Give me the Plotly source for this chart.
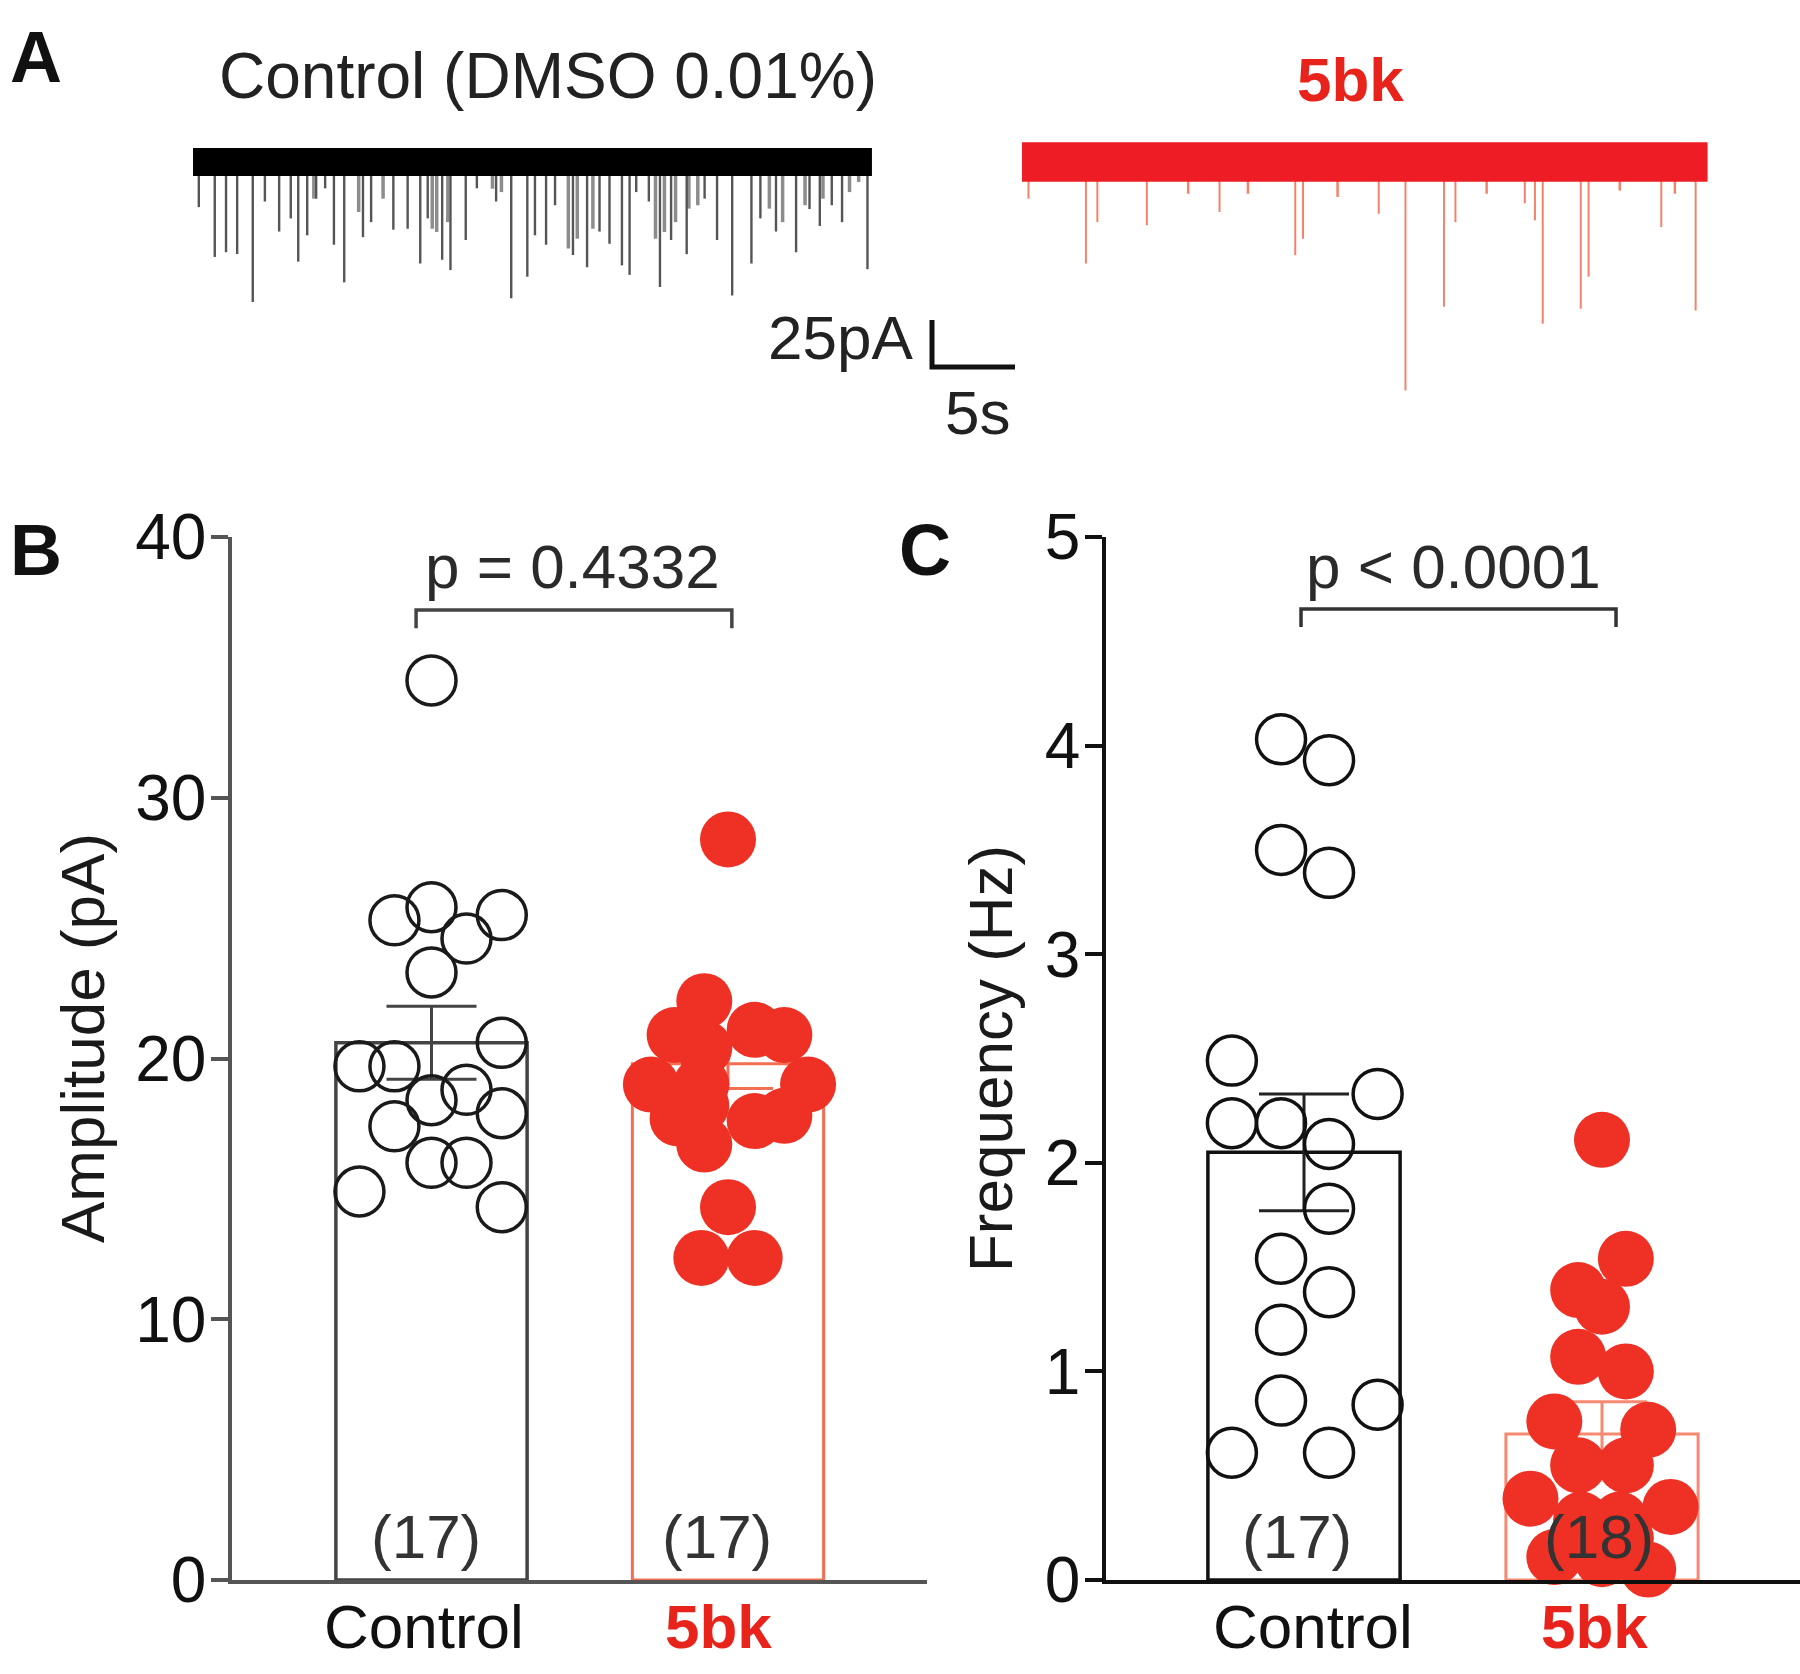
import plotly.graph_objects as go

W, H = 1800, 1674
FONT = "Liberation Sans, Arial, sans-serif"
RED = "#EE3124"
RED_TEXT = "#E8231B"
RED_TRACE = "#EE1C25"
RED_SPIKE = "#F4826A"
RED_BAR = "#F36E52"
INK = "#1a1a1a"
GRAY_AX = "#555555"


def px(x):
    return x / W


def py(y):
    return 1 - y / H


# ---------------- Panel A : example traces ----------------
ctrl_duration_s = 40.9
bk_duration_s = 41.3
ctrl_noise_pa = 15.0
bk_noise_pa = 21.0
ctrl_event_t = [0.35, 1.31, 1.99, 2.66, 3.60, 4.33, 5.19, 5.89, 6.34, 6.88, 7.42, 7.96, 8.49,
                9.11, 10.24, 10.73, 12.07, 12.93, 13.69, 14.14, 15.01, 15.51, 16.43, 17.10,
                18.26, 19.17, 20.14, 20.60, 21.27, 21.81, 22.89, 23.74, 24.49, 25.09, 25.84,
                26.30, 26.70, 27.46, 28.13, 28.80, 29.74, 30.82, 31.57, 32.48, 33.64, 34.18,
                35.12, 36.33, 37.14, 37.76, 38.48, 39.10, 40.63]
ctrl_event_amp = [24, 50.5, 48, 49, 74.5, 21, 37, 30, 53, 39, 19.5, 14, 44, 64, 40, 32, 36,
                  35.5, 54, 30, 52, 57.5, 41.5, 14, 21, 72.5, 61, 39, 44, 23, 49.5, 56, 37,
                  43.5, 55, 60, 16, 21, 66.5, 41.5, 49, 19.5, 41.5, 71, 54, 30, 37, 48, 25,
                  34, 23, 32, 57]
ctrl_minor_t = [7.28, 9.98, 11.45, 14.41, 14.68, 15.35, 18.04, 18.58, 22.61, 23.15, 24.09,
                27.86, 28.40, 29.07, 29.87, 30.41, 34.72, 35.52, 36.87, 37.95, 39.55, 40.10]
ctrl_minor_amp = [19.5, 26.6, 19.5, 35.5, 37.2, 32, 14.2, 16, 46, 40.8, 35.5, 40.8, 37.2, 32,
                  24.8, 23, 24.8, 32, 23, 19.5, 16, 10.6]
bk_event_t = [0.39, 3.85, 4.54, 7.52, 11.90, 16.46, 16.93, 21.49, 23.10, 25.42, 26.11, 30.29,
              30.90, 31.37, 33.66, 34.13, 38.51, 40.58]
bk_event_amp = [19.5, 54, 32, 33.7, 26.6, 49.6, 40.8, 27.5, 121.5, 77, 32, 22, 31, 86, 78,
                61, 34.6, 79]
bk_minor_t = [10.01, 13.61, 19.01, 27.99, 36.01, 39.33]
bk_minor_amp = [16.9, 16.9, 18.6, 16.9, 15.2, 16.9]
scale_pa = 25
scale_s = 5

# ---------------- Panel B : amplitude ----------------
groups = ["Control", "5bk"]
amp_ctrl = [34.5, 25.8, 25.3, 25.5, 24.6, 23.3, 20.6, 19.7, 19.7, 18.8, 18.4, 17.4, 17.9,
            16.0, 16.0, 14.9, 14.3]
amp_ctrl_jitter = [0, 0, -0.125, 0.237, 0.118, 0, 0.237, -0.243, -0.125, 0.118, 0, -0.125,
                   0.237, 0, 0.118, -0.243, 0.237]
amp_bk = [28.4, 22.2, 20.9, 21.1, 20.9, 20.4, 19.0, 19.0, 19.0, 18.2, 17.7, 17.8, 17.6,
          16.7, 14.3, 12.35, 12.35]
amp_bk_jitter = [0, -0.08, -0.18, 0.09, 0.19, -0.08, -0.26, -0.09, 0.27, -0.09, -0.17, 0.19,
                 0.09, -0.08, 0, -0.09, 0.09]
amp_mean = [20.6, 19.8]
amp_sem = [1.4, 0.95]
amp_p = "p = 0.4332"
amp_ticks = [0, 10, 20, 30, 40]

# ---------------- Panel C : frequency ----------------
freq_ctrl = [4.03, 3.93, 3.50, 3.39, 2.49, 2.33, 2.19, 2.19, 2.09, 1.78, 1.54, 1.38, 1.20,
             0.86, 0.84, 0.61, 0.61]
freq_ctrl_jitter = [-0.077, 0.084, -0.077, 0.084, -0.242, 0.247, -0.242, -0.077, 0.084,
                    0.084, -0.077, 0.084, -0.077, -0.077, 0.247, -0.242, 0.084]
freq_bk = [2.11, 1.54, 1.39, 1.31, 1.07, 1.00, 0.76, 0.72, 0.55, 0.55, 0.39, 0.35, 0.29,
           0.29, 0.20, 0.11, 0.10, 0.05]
freq_bk_jitter = [0, 0.08, -0.08, 0, -0.08, 0.08, -0.16, 0.155, -0.08, 0.08, -0.24, 0.23,
                  -0.07, 0.06, 0.08, -0.16, 0, 0.155]
freq_mean = [2.05, 0.70]
freq_sem = [0.28, 0.155]
freq_p = "p < 0.0001"
freq_ticks = [0, 1, 2, 3, 4, 5]

fig = go.Figure()

# ----- layout geometry (pixels) -----
A_PX_PER_S = 16.6
A_PX_PER_PA = 1.88
A_Y_TOP, A_Y_BOT, A_BASE = 110, 420, 162
ctrl_x0_px, bk_x0_px = 193, 1022


def spikes(ts, amps):
    xs, ys = [], []
    for t, a in zip(ts, amps):
        xs += [t, t, None]
        ys += [0, -a, None]
    return xs, ys


# control trace (x3 / y3)
sx, sy = spikes(ctrl_minor_t, ctrl_minor_amp)
fig.add_trace(go.Scatter(x=sx, y=sy, xaxis="x3", yaxis="y3", mode="lines",
                         line=dict(color="#8c8c8c", width=3.5), hoverinfo="skip"))
sx, sy = spikes(ctrl_event_t, ctrl_event_amp)
fig.add_trace(go.Scatter(x=sx, y=sy, xaxis="x3", yaxis="y3", mode="lines",
                         line=dict(color="#555555", width=2.4), hoverinfo="skip"))
fig.add_trace(go.Scatter(x=[0, ctrl_duration_s], y=[0, 0], xaxis="x3", yaxis="y3", mode="lines",
                         line=dict(color="#000000", width=ctrl_noise_pa * A_PX_PER_PA),
                         hoverinfo="skip"))
# scale bar
sb_t0 = (932 - ctrl_x0_px) / A_PX_PER_S
sb_y0 = -(367 - A_BASE) / A_PX_PER_PA
fig.add_trace(go.Scatter(x=[sb_t0, sb_t0, sb_t0 + scale_s],
                         y=[sb_y0 + scale_pa, sb_y0, sb_y0], xaxis="x3", yaxis="y3",
                         mode="lines", line=dict(color="#111111", width=5), hoverinfo="skip"))
# 5bk trace (x4 / y3)
sx, sy = spikes(bk_minor_t, bk_minor_amp)
fig.add_trace(go.Scatter(x=sx, y=sy, xaxis="x4", yaxis="y3", mode="lines",
                         line=dict(color=RED_SPIKE, width=2.5), hoverinfo="skip"))
sx, sy = spikes(bk_event_t, bk_event_amp)
fig.add_trace(go.Scatter(x=sx, y=sy, xaxis="x4", yaxis="y3", mode="lines",
                         line=dict(color=RED_SPIKE, width=2.0), hoverinfo="skip"))
fig.add_trace(go.Scatter(x=[0, bk_duration_s], y=[0, 0], xaxis="x4", yaxis="y3", mode="lines",
                         line=dict(color=RED_TRACE, width=bk_noise_pa * A_PX_PER_PA),
                         hoverinfo="skip"))

# ----- Panel B -----
BAR_W = 0.645
fig.add_trace(go.Bar(x=[0], y=[amp_mean[0]], width=BAR_W, xaxis="x", yaxis="y",
                     marker=dict(color="rgba(255,255,255,0)", line=dict(color="#444444", width=3.5)),
                     error_y=dict(type="data", array=[amp_sem[0]], color="#444444",
                                  thickness=3, width=45), hoverinfo="skip"))
fig.add_trace(go.Bar(x=[1], y=[amp_mean[1]], width=BAR_W, xaxis="x", yaxis="y",
                     marker=dict(color="rgba(255,255,255,0)", line=dict(color=RED_BAR, width=3)),
                     error_y=dict(type="data", array=[amp_sem[1]], color=RED_BAR,
                                  thickness=3, width=45), hoverinfo="skip"))
fig.add_trace(go.Scatter(x=[0 + j for j in amp_ctrl_jitter], y=amp_ctrl, xaxis="x", yaxis="y",
                         mode="markers", cliponaxis=False,
                         marker=dict(symbol="circle-open", size=49, color="#1a1a1a",
                                     line=dict(width=3.5, color="#1a1a1a")), hoverinfo="skip"))
fig.add_trace(go.Scatter(x=[1 + j for j in amp_bk_jitter], y=amp_bk, xaxis="x", yaxis="y",
                         mode="markers", cliponaxis=False,
                         marker=dict(symbol="circle", size=56, color=RED,
                                     line=dict(width=0)), hoverinfo="skip"))
fig.add_trace(go.Scatter(x=[-0.052, -0.052, 1.013, 1.013], y=[36.5, 37.2, 37.2, 36.5],
                         xaxis="x", yaxis="y", mode="lines", cliponaxis=False,
                         line=dict(color="#444444", width=3.5), hoverinfo="skip"))

# ----- Panel C -----
fig.add_trace(go.Bar(x=[0], y=[freq_mean[0]], width=BAR_W, xaxis="x2", yaxis="y2",
                     marker=dict(color="rgba(255,255,255,0)", line=dict(color="#111111", width=3.5)),
                     error_y=dict(type="data", array=[freq_sem[0]], color="#222222",
                                  thickness=3, width=45), hoverinfo="skip"))
fig.add_trace(go.Bar(x=[1], y=[freq_mean[1]], width=BAR_W, xaxis="x2", yaxis="y2",
                     marker=dict(color="rgba(255,255,255,0)", line=dict(color="#F58A70", width=3)),
                     error_y=dict(type="data", array=[freq_sem[1]], color="#F58A70",
                                  thickness=3, width=45), hoverinfo="skip"))
fig.add_trace(go.Scatter(x=[0 + j for j in freq_ctrl_jitter], y=freq_ctrl, xaxis="x2", yaxis="y2",
                         mode="markers", cliponaxis=False,
                         marker=dict(symbol="circle-open", size=49, color="#111111",
                                     line=dict(width=3.5, color="#111111")), hoverinfo="skip"))
fig.add_trace(go.Scatter(x=[1 + j for j in freq_bk_jitter], y=freq_bk, xaxis="x2", yaxis="y2",
                         mode="markers", cliponaxis=False,
                         marker=dict(symbol="circle", size=56, color=RED,
                                     line=dict(width=0)), hoverinfo="skip"))
fig.add_trace(go.Scatter(x=[-0.01, -0.01, 1.047, 1.047], y=[4.568, 4.655, 4.655, 4.568],
                         xaxis="x2", yaxis="y2", mode="lines", cliponaxis=False,
                         line=dict(color="#333333", width=3.5), hoverinfo="skip"))


def txt(text, x, y, size=62, color=INK, xanchor="center", angle=0):
    return dict(text=text, x=px(x), y=py(y), xref="paper", yref="paper", showarrow=False,
                font=dict(family=FONT, size=size, color=color), xanchor=xanchor,
                yanchor="middle", textangle=angle)


annotations = [
    txt("<b>A</b>", 36, 57, size=72, color="#111111"),
    txt("Control (DMSO 0.01%)", 548, 76, size=64, color="#222222"),
    txt("<b>5bk</b>", 1350, 79, size=62, color=RED_TEXT),
    txt(f"{scale_pa}pA", 915, 338, size=62, color="#222222", xanchor="right"),
    txt(f"{scale_s}s", 977, 413, size=62, color="#222222"),
    txt("<b>B</b>", 36, 550, size=72, color="#111111"),
    txt("<b>C</b>", 925, 550, size=72, color="#111111"),
    txt(amp_p, 572, 567, size=62, color="#2a2a2a"),
    txt(freq_p, 1453, 567, size=62, color="#2a2a2a"),
    txt("Amplitude (pA)", 82, 1038, size=62, angle=-90),
    txt("Frequency (Hz)", 990, 1059, size=62, angle=-90),
    txt(f"({len(amp_ctrl)})", 426, 1536, size=62, color="#333333"),
    txt(f"({len(amp_bk)})", 717, 1536, size=62, color="#333333"),
    txt(f"({len(freq_ctrl)})", 1297, 1536, size=62, color="#333333"),
    txt(f"({len(freq_bk)})", 1599, 1536, size=62, color="#333333"),
    txt(groups[0], 424, 1626, size=62, color="#111111"),
    txt(f"<b>{groups[1]}</b>", 718, 1626, size=62, color=RED_TEXT),
    txt(groups[0], 1313, 1626, size=62, color="#111111"),
    txt(f"<b>{groups[1]}</b>", 1594, 1626, size=62, color=RED_TEXT),
]

b_left, b_right = 232, 927
b_c0, b_step = 431.5, 296.5
c_left, c_right = 1106, 1800
c_c0, c_step = 1304, 298
y_bot, y_top = 1580, 537

axis_common = dict(showgrid=False, zeroline=False, fixedrange=True, automargin=False)

fig.update_layout(
    template="none",
    width=W, height=H, autosize=False, margin=dict(l=0, r=0, t=0, b=0, pad=0, autoexpand=False),
    paper_bgcolor="white", plot_bgcolor="rgba(0,0,0,0)",
    showlegend=False, barmode="overlay", annotations=annotations,
    font=dict(family=FONT, size=62, color=INK),
    xaxis=dict(domain=[px(b_left), px(b_right)],
               range=[(b_left - b_c0) / b_step, (b_right - b_c0) / b_step],
               anchor="y", showline=True, linecolor=GRAY_AX, linewidth=3.5,
               showticklabels=False, ticks="", **axis_common),
    yaxis=dict(domain=[py(y_bot), py(y_top)], range=[0, 40], anchor="x",
               showline=True, linecolor=GRAY_AX, linewidth=3.5, ticks="outside",
               ticklen=17, tickwidth=3.5, tickcolor=GRAY_AX, tickvals=amp_ticks,
               ticklabelstandoff=-8,
               tickfont=dict(family=FONT, size=64, color="#111111"), **axis_common),
    xaxis2=dict(domain=[px(c_left), px(c_right)],
                range=[(c_left - c_c0) / c_step, (c_right - c_c0) / c_step],
                anchor="y2", showline=True, linecolor="#111111", linewidth=3.5,
                showticklabels=False, ticks="", **axis_common),
    yaxis2=dict(domain=[py(y_bot), py(y_top)], range=[0, 5], anchor="x2",
                showline=True, linecolor="#111111", linewidth=3.5, ticks="outside",
                ticklen=17, tickwidth=3.5, tickcolor="#111111", tickvals=freq_ticks,
                ticklabelstandoff=-8,
                tickfont=dict(family=FONT, size=64, color="#111111"), **axis_common),
    xaxis3=dict(domain=[px(185), px(1017)],
                range=[(185 - ctrl_x0_px) / A_PX_PER_S, (1017 - ctrl_x0_px) / A_PX_PER_S],
                anchor="y3", visible=False, **axis_common),
    xaxis4=dict(domain=[px(1018), px(1715)],
                range=[(1018 - bk_x0_px) / A_PX_PER_S, (1715 - bk_x0_px) / A_PX_PER_S],
                anchor="y3", visible=False, **axis_common),
    yaxis3=dict(domain=[py(A_Y_BOT), py(A_Y_TOP)],
                range=[-(A_Y_BOT - A_BASE) / A_PX_PER_PA, (A_BASE - A_Y_TOP) / A_PX_PER_PA],
                anchor="x3", visible=False, **axis_common),
)

fig.write_html("out.html", post_script="document.body.style.margin='0';",
               config={"displayModeBar": False, "responsive": False})
